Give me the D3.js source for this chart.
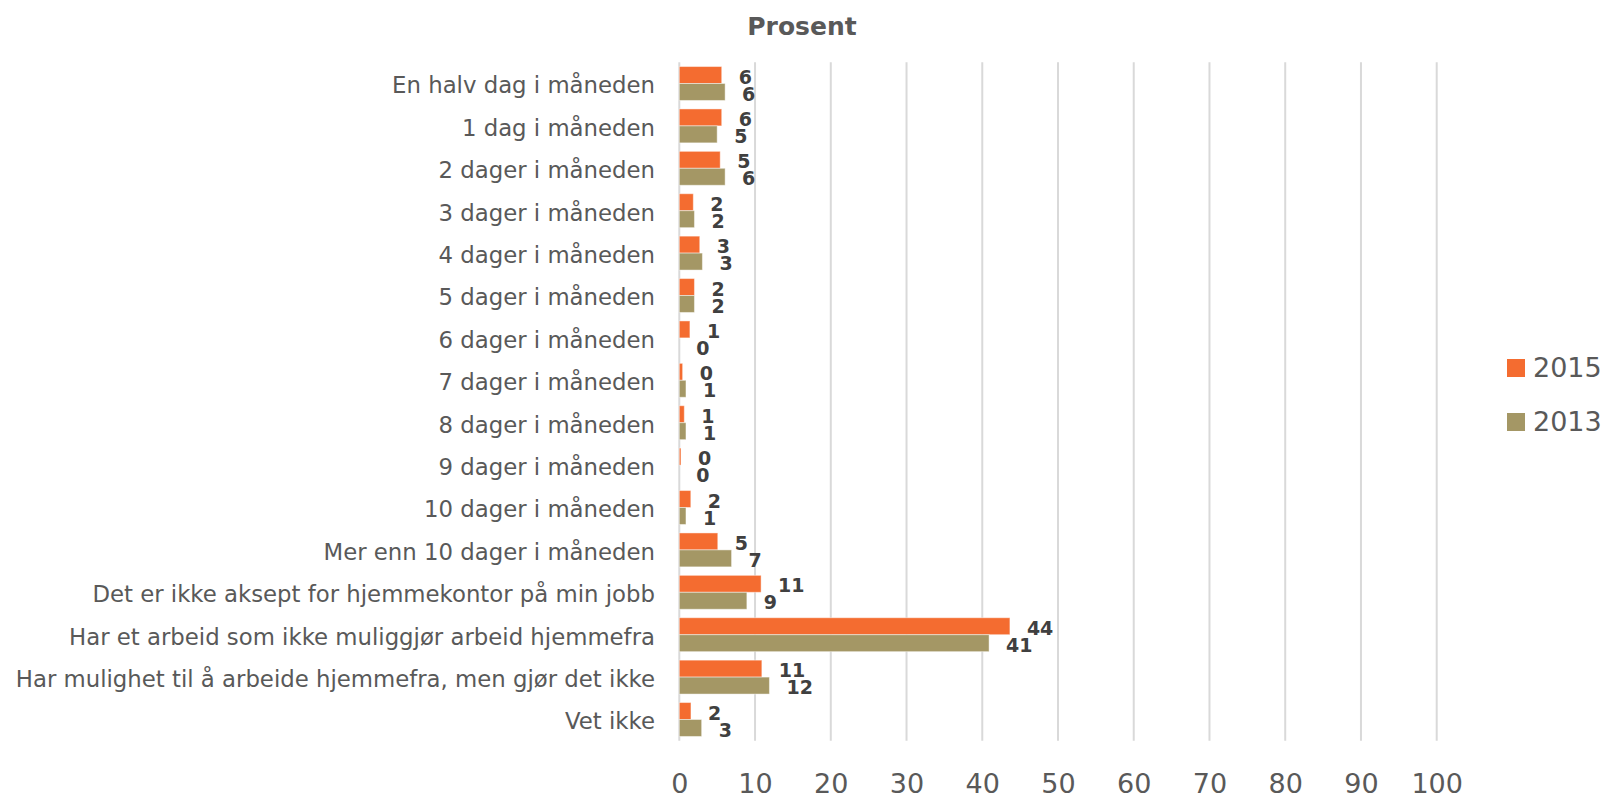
<!DOCTYPE html>
<html>
<head>
<meta charset="utf-8">
<script src="https://cdn.jsdelivr.net/npm/d3@7"></script>
<style>
  html, body { margin: 0; padding: 0; background: #ffffff; }
  svg { display: block; }
  text { font-family: "Century Gothic", "DejaVu Sans", sans-serif; }
</style>
</head>
<body>
<div id="chart"></div>
<script>
const categories = [
  "En halv dag i måneden",
  "1 dag i måneden",
  "2 dager i måneden",
  "3 dager i måneden",
  "4 dager i måneden",
  "5 dager i måneden",
  "6 dager i måneden",
  "7 dager i måneden",
  "8 dager i måneden",
  "9 dager i måneden",
  "10 dager i måneden",
  "Mer enn 10 dager i måneden",
  "Det er ikke aksept for hjemmekontor på min jobb",
  "Har et arbeid som ikke muliggjør arbeid hjemmefra",
  "Har mulighet til å arbeide hjemmefra, men gjør det ikke",
  "Vet ikke"
];
const seriesNames = ["2015", "2013"];
const values2015 = [5.6, 5.6, 5.4, 1.85, 2.7, 2.0, 1.4, 0.44, 0.66, 0.22, 1.52, 5.08, 10.8, 43.65, 10.9, 1.54];
const values2013 = [6.05, 5.0, 6.05, 2.0, 3.05, 2.0, 0.0, 0.88, 0.88, 0.0, 0.88, 6.9, 8.92, 40.9, 11.9, 2.95];
const xTicks = [0, 10, 20, 30, 40, 50, 60, 70, 80, 90, 100];
const titleText = "Prosent";
const colors = { "2015": "#F46C30", "2013": "#A49765" };

const W = 1607, H = 798;
const plot = { left: 679.3, right: 1436.7, top: 62.3, bottom: 740.7 };

const svg = d3.select("#chart").append("svg").attr("width", W).attr("height", H);

const x = d3.scaleLinear().domain([0, 100]).range([plot.left, plot.right]);
const y = d3.scaleBand().domain(categories).range([plot.top, plot.bottom])
  .paddingInner(0.2).paddingOuter(0.1);
const ySub = d3.scaleBand().domain(seriesNames).range([0, y.bandwidth()]);

// gridlines
svg.append("g").selectAll("line").data(xTicks).join("line")
  .attr("x1", d => x(d)).attr("x2", d => x(d))
  .attr("y1", plot.top).attr("y2", plot.bottom)
  .attr("stroke", "#d9d9d9").attr("stroke-width", 2);

// x axis labels
const xAxis = d3.axisBottom(x).tickValues(xTicks).tickSize(0).tickPadding(0);
const gx = svg.append("g").attr("transform", `translate(0,${plot.bottom})`).call(xAxis);
gx.select(".domain").remove();
gx.selectAll("text")
  .attr("y", 52).attr("dy", 0)
  .attr("fill", "#595959")
  .style("font-size", "27px")
  .style("font-family", "\"Century Gothic\", \"DejaVu Sans\", sans-serif");

// y axis labels
const yAxis = d3.axisLeft(y).tickSize(0).tickPadding(0);
const gy = svg.append("g").attr("transform", `translate(655,0)`).call(yAxis);
gy.select(".domain").remove();
gy.selectAll("text")
  .attr("x", 0).attr("dy", "0.35em").attr("y", 2)
  .attr("fill", "#595959")
  .style("font-size", "22.8px")
  .style("font-family", "\"Century Gothic\", \"DejaVu Sans\", sans-serif");

const rows = categories.map((c, i) => ({ cat: c, vals: [
  { s: "2015", v: values2015[i] },
  { s: "2013", v: values2013[i] }
]}));

const groups = svg.append("g").selectAll("g").data(rows).join("g")
  .attr("transform", d => `translate(0,${y(d.cat)})`);

groups.selectAll("rect").data(d => d.vals).join("rect")
  .attr("x", x(0))
  .attr("y", d => ySub(d.s))
  .attr("width", d => x(d.v) - x(0))
  .attr("height", ySub.bandwidth())
  .attr("fill", d => colors[d.s])
  .attr("stroke", d => d.v > 0 ? "rgba(255,255,255,0.45)" : "none")
  .attr("stroke-width", 1);

const fmt = d3.format(".0f");
groups.selectAll("text.lbl").data(d => d.vals).join("text")
  .attr("class", "lbl")
  .attr("x", d => x(d.v) + 17)
  .attr("y", d => ySub(d.s) + ySub.bandwidth() / 2 + 2)
  .attr("dy", "0.35em")
  .attr("fill", "#404040")
  .style("font-size", "19px")
  .style("font-weight", "bold")
  .text(d => fmt(d.v));

// title
svg.append("text")
  .attr("x", 802).attr("y", 35)
  .attr("text-anchor", "middle")
  .attr("fill", "#595959")
  .style("font-size", "25px")
  .style("font-weight", "bold")
  .text(titleText);

// legend
const legend = svg.append("g").selectAll("g").data(seriesNames).join("g")
  .attr("transform", (d, i) => `translate(1507,${359 + i * 54})`);
legend.append("rect").attr("width", 18).attr("height", 18)
  .attr("fill", d => colors[d]);
legend.append("text").attr("x", 26).attr("y", 9).attr("dy", "0.35em")
  .attr("fill", "#595959")
  .style("font-size", "27px")
  .text(d => d);
</script>
</body>
</html>
